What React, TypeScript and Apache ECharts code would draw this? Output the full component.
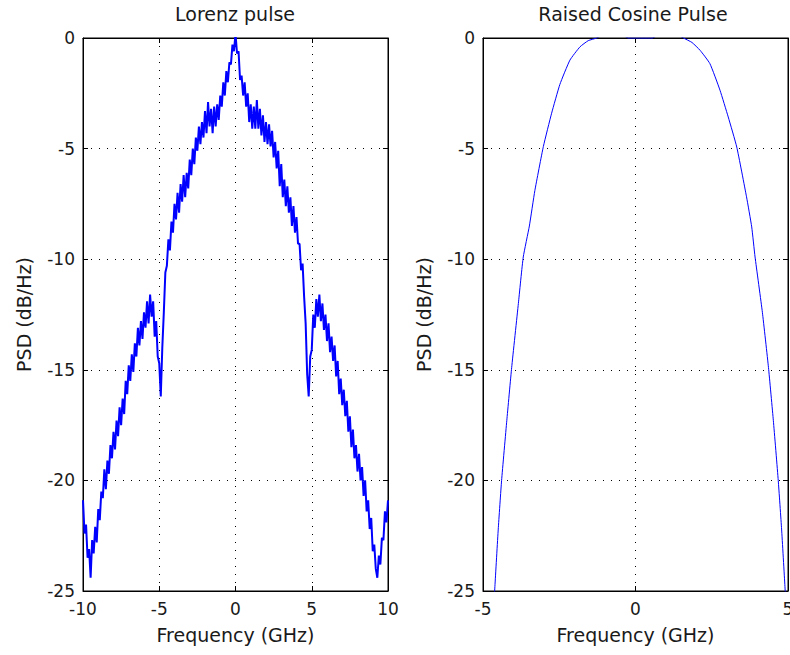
import React, { useEffect, useRef } from "react";
import * as echarts from "echarts";

// Lorenz pulse PSD (dB/Hz), sampled every 0.1 GHz from -10 GHz to +10 GHz
const lorenzStartGHz = -10;
const lorenzStepGHz = 0.1;
const lorenzPsd = [
  -20.9, -22.4, -22.0, -23.5, -23.1, -24.4, -22.7, -23.3, -22.1, -22.8,
  -21.3, -21.8, -20.5, -20.8, -19.5, -20.4, -19.1, -19.7, -18.4, -19.0,
  -17.8, -18.6, -17.3, -18.0, -16.7, -17.5, -16.3, -17.0, -15.5, -16.1,
  -14.8, -15.5, -14.3, -15.1, -13.8, -14.4, -13.1, -13.9, -12.8, -13.6,
  -12.4, -13.1, -11.9, -12.9, -11.6, -12.6, -11.9, -13.5, -12.8, -14.4,
  -14.7, -16.2, -14.0, -12.4, -10.6, -10.3, -9.1, -9.6, -8.3, -8.8,
  -7.5, -8.2, -7.0, -7.9, -6.6, -7.4, -6.2, -7.2, -6.1, -6.8,
  -5.5, -6.2, -5.0, -5.7, -4.5, -5.1, -4.0, -4.8, -3.8, -4.5,
  -3.3, -4.3, -2.9, -4.0, -3.2, -4.3, -3.1, -4.0, -3.0, -3.7,
  -2.6, -3.1, -2.0, -2.6, -1.5, -2.0, -1.1, -1.2, -0.3, -0.6,
  0.2,
  -0.7, -0.6, -1.9, -1.7, -2.6, -2.0, -3.1, -2.5, -3.8, -3.0,
  -4.1, -3.1, -4.1, -2.8, -4.1, -3.2, -4.4, -3.5, -4.7, -3.8,
  -4.8, -3.9, -4.9, -4.2, -5.4, -4.7, -5.9, -5.1, -6.7, -5.7,
  -7.2, -6.4, -7.6, -6.7, -7.9, -7.2, -8.5, -7.6, -8.8, -8.1,
  -9.3, -9.3, -10.5, -10.2, -11.7, -12.9, -15.2, -16.2, -14.4, -14.1,
  -12.5, -13.1, -11.8, -12.6, -11.6, -12.8, -12.0, -13.2, -12.5, -13.7,
  -12.9, -14.2, -13.5, -14.6, -13.9, -15.3, -14.6, -16.1, -15.4, -16.6,
  -15.9, -17.1, -16.4, -17.8, -17.1, -18.5, -17.7, -19.0, -18.4, -19.6,
  -18.8, -20.0, -19.4, -20.7, -20.0, -21.4, -20.9, -22.2, -21.7, -23.2,
  -22.9, -24.0, -24.4, -23.4, -23.8, -22.6, -22.7, -21.4, -21.9, -20.9,
];

// Raised cosine pulse PSD
const raisedFreq = [
  -4.64, -4.61, -4.5, -4.39, -4.22, -4.06, -3.84, -3.68, -3.48, -3.3, -3.02,
  -2.75, -2.48, -2.15, -1.82, -1.55, -1.27, -0.9, -0.5, -0.24, 0.55, 0.9, 1.3,
  1.57, 1.85, 2.12, 2.44, 2.77, 3.04, 3.32, 3.64, 3.81, 3.92, 4.16, 4.36, 4.52,
  4.68, 4.79, 4.9, 4.93,
];
const raisedPsd = [
  -25.6, -24.8, -22.2, -20.0, -17.3, -14.9, -12.0, -9.9, -8.5, -6.9, -4.9,
  -3.4, -2.1, -1.0, -0.4, -0.12, 0, 0.25, 0.2, 0, 0, 0.25, 0.2,
  0, -0.2, -0.56, -1.16, -2.36, -3.57, -4.93, -7.18, -8.54, -9.9, -12.4, -14.9, -17.3,
  -20.0, -22.2, -24.8, -25.6,
];

const titles = ["Lorenz pulse", "Raised Cosine Pulse"];
const xName = "Frequency (GHz)";
const yName = "PSD (dB/Hz)";
const leftXRange = [-10, 10];
const rightXRange = [-5, 5];
const yRange = [-25, 0];

const FONT = "DejaVu Sans";
const TXT = "#1a1a1a";

export default function App() {
  const ref = useRef<HTMLDivElement>(null);
  useEffect(() => {
    if (!ref.current) return;
    const chart = echarts.init(ref.current, undefined, { renderer: "svg" });

    const gridBase = {
      top: 38,
      width: 305,
      height: 553,
      show: true,
      borderColor: "#000",
      borderWidth: 1,
      backgroundColor: "transparent",
      outerBoundsMode: "none",
      containLabel: false,
    };
    const grids = [
      { ...gridBase, left: 83 },
      { ...gridBase, left: 483 },
    ];

    const dotted = { color: "#000", width: 1, type: [1, 7] as any };

    const mkX = (gi: number, range: number[], pos: "bottom" | "top") => ({
      type: "value",
      gridIndex: gi,
      position: pos,
      min: range[0],
      max: range[1],
      interval: 5,
      axisLine: { show: true, onZero: false, lineStyle: { color: "#000", width: 1 } },
      axisTick: { show: true, inside: true, length: 5, lineStyle: { color: "#000" } },
      axisLabel: {
        show: pos === "bottom",
        fontFamily: FONT,
        fontSize: 17,
        color: TXT,
        margin: 9,
        hideOverlap: false,
      },
      splitLine: { show: pos === "bottom", lineStyle: dotted },
      name: pos === "bottom" ? xName : "",
      nameLocation: "middle",
      nameGap: 34,
      nameTextStyle: { fontFamily: FONT, fontSize: 19, color: TXT },
    });

    const mkY = (gi: number, pos: "left" | "right") => ({
      type: "value",
      gridIndex: gi,
      position: pos,
      min: yRange[0],
      max: yRange[1],
      interval: 5,
      axisLine: { show: true, onZero: false, lineStyle: { color: "#000", width: 1 } },
      axisTick: { show: true, inside: true, length: 5, lineStyle: { color: "#000" } },
      axisLabel: {
        show: pos === "left",
        fontFamily: FONT,
        fontSize: 17,
        color: TXT,
        margin: 8,
      },
      splitLine: { show: pos === "left", lineStyle: dotted },
      name: pos === "left" ? yName : "",
      nameLocation: "middle",
      nameGap: 50,
      nameRotate: 90,
      nameTextStyle: { fontFamily: FONT, fontSize: 19, color: TXT },
    });

    const lorenzData = lorenzPsd.map((v, i) => [
      +(lorenzStartGHz + i * lorenzStepGHz).toFixed(2),
      v,
    ]);
    const raisedData = raisedFreq.map((f, i) => [f, raisedPsd[i]]);

    chart.setOption({
      animation: false,
      backgroundColor: "#fff",
      grid: grids,
      xAxis: [
        mkX(0, leftXRange, "bottom"),
        mkX(0, leftXRange, "top"),
        mkX(1, rightXRange, "bottom"),
        mkX(1, rightXRange, "top"),
      ],
      yAxis: [mkY(0, "left"), mkY(0, "right"), mkY(1, "left"), mkY(1, "right")],
      graphic: [
        {
          type: "text",
          x: 235,
          y: 14,
          style: {
            text: titles[0],
            fontFamily: FONT,
            fontSize: 19,
            fill: TXT,
            textAlign: "center",
            textVerticalAlign: "middle",
          },
        },
        {
          type: "text",
          x: 633,
          y: 14,
          style: {
            text: titles[1],
            fontFamily: FONT,
            fontSize: 19,
            fill: TXT,
            textAlign: "center",
            textVerticalAlign: "middle",
          },
        },
      ],
      series: [
        {
          type: "line",
          xAxisIndex: 0,
          yAxisIndex: 0,
          data: lorenzData,
          symbol: "none",
          clip: true,
          lineStyle: { color: "#0000ff", width: 2 },
        },
        {
          type: "line",
          xAxisIndex: 2,
          yAxisIndex: 2,
          data: raisedData,
          symbol: "none",
          smooth: 0.15,
          clip: true,
          lineStyle: { color: "#0000ff", width: 1 },
        },
      ],
    });
    return () => chart.dispose();
  }, []);

  return (
    <div
      ref={ref}
      style={{ position: "absolute", left: 0, top: 0, width: 790, height: 655, background: "#fff" }}
    />
  );
}
